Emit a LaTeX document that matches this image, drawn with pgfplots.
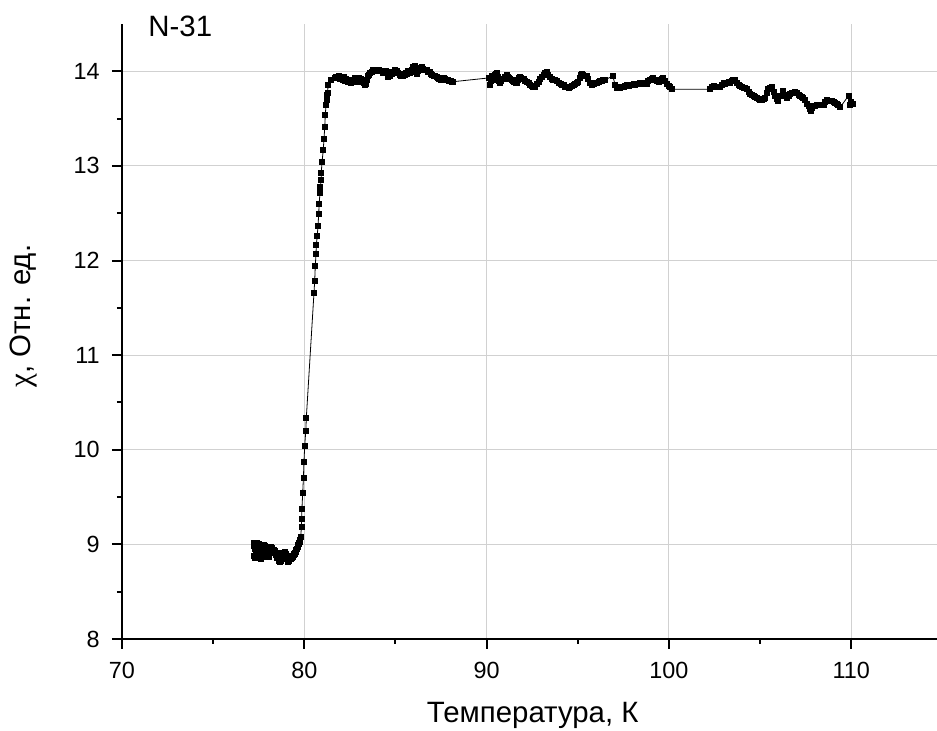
\documentclass[border=0pt]{standalone}
\usepackage{fontspec}
\setmainfont{Liberation Sans}
\newfontfamily\serifchi{Liberation Serif}
\usepackage{pgfplots}
\pgfplotsset{compat=1.18}
\begin{document}
\begin{tikzpicture}
\begin{axis}[
  scale only axis, width=407.5pt, height=307.5pt,
  xmin=70, xmax=114.7, ymin=8, ymax=14.5,
  axis x line*=bottom, axis y line*=left, axis line style={-, line width=1.1pt},
  tick pos=left,
  xtick={70,80,...,110}, ytick={8,9,...,14},
  minor tick num=1,
  tick align=outside,
  major tick length=5pt, minor tick length=2.5pt,
  tick style={line width=1pt, black},
  grid=major, major grid style={black!18, line width=0.5pt},
  tick label style={font=\fontsize{11.7}{14}\selectfont},
  /pgf/number format/assume math mode=true,
  xticklabel style={inner sep=0pt, anchor=north, yshift=-6.35pt},
  yticklabel style={inner sep=0pt, anchor=east, xshift=-6pt},
  xlabel={Температура, К}, ylabel={{\serifchi\fontsize{15.5}{17}\selectfont χ}, Отн. ед.},
  label style={font=\fontsize{14.7}{17}\selectfont, inner sep=0pt},
  xlabel style={at={(axis description cs:0.504,0)}, anchor=base, yshift=-41.85pt},
  ylabel style={at={(axis description cs:-0.1043,0.525)}, anchor=south, rotate=0},
  clip=false,
]
\addplot[black, line width=0.4pt, mark=square*, mark size=1.25pt, mark options={solid}] coordinates {
(77.22,8.98)(77.24,8.88)(77.26,9.02)(77.28,8.86)(77.30,8.95)(77.32,9.01)(77.34,8.87)(77.36,8.93)(77.38,9.02)(77.40,8.90)
(77.43,8.99)(77.46,8.88)(77.49,8.97)(77.52,9.00)(77.55,8.93)(77.58,8.98)(77.61,8.86)(77.64,8.85)(77.67,8.92)(77.70,8.97)
(77.73,8.95)(77.76,8.99)(77.79,8.96)(77.82,8.98)(77.85,8.93)(77.88,8.88)(77.91,8.87)(77.94,8.90)(77.97,8.92)(78.00,8.88)
(78.03,8.87)(78.06,8.91)(78.09,8.94)(78.12,8.96)(78.15,8.95)(78.18,8.97)(78.21,8.96)(78.24,8.93)(78.27,8.91)(78.30,8.92)
(78.33,8.94)(78.36,8.93)(78.39,8.92)(78.42,8.90)(78.45,8.89)(78.48,8.86)(78.51,8.88)(78.54,8.90)(78.57,8.91)(78.60,8.86)
(78.63,8.83)(78.66,8.82)(78.69,8.83)(78.72,8.85)(78.75,8.86)(78.78,8.88)(78.81,8.87)(78.84,8.88)(78.87,8.90)(78.90,8.91)
(78.93,8.92)(78.96,8.91)(78.99,8.90)(79.02,8.88)(79.05,8.85)(79.08,8.83)(79.11,8.82)(79.14,8.83)(79.17,8.84)(79.20,8.85)
(79.23,8.86)(79.26,8.86)(79.29,8.85)(79.32,8.86)(79.35,8.87)(79.38,8.88)(79.41,8.89)(79.44,8.90)(79.47,8.90)(79.50,8.91)
(79.53,8.92)(79.56,8.94)(79.59,8.95)(79.62,8.97)(79.65,8.99)(79.68,9.00)(79.71,9.02)(79.74,9.03)(79.77,9.05)
(79.80,9.08)(79.84,9.18)(79.85,9.27)(79.87,9.38)(79.91,9.54)(79.95,9.70)(79.98,9.87)(80.02,10.04)(80.08,10.20)(80.11,10.34)
(80.53,11.66)(80.57,11.79)(80.60,11.94)(80.64,12.07)(80.66,12.17)(80.71,12.26)(80.75,12.37)(80.79,12.49)(80.81,12.60)(80.86,12.71)
(80.88,12.78)(80.92,12.85)(80.93,12.93)(80.97,13.04)(81.04,13.17)(81.08,13.29)(81.12,13.41)(81.15,13.54)(81.19,13.64)(81.22,13.70)
(81.25,13.75)(81.28,13.77)(81.30,13.86)(81.45,13.91)(81.65,13.93)
(81.75,13.94)(81.89,13.95)(81.97,13.92)(82.05,13.93)(82.12,13.91)(82.18,13.94)(82.23,13.90)(82.30,13.92)(82.37,13.89)(82.44,13.91)
(82.51,13.90)(82.58,13.88)(82.64,13.91)(82.69,13.89)(82.76,13.93)(82.82,13.90)(82.87,13.92)(82.95,13.89)(83.02,13.93)(83.09,13.92)
(83.16,13.90)(83.24,13.88)(83.31,13.86)(83.38,13.87)(83.43,13.91)(83.48,13.95)(83.55,13.96)(83.62,13.98)(83.70,13.99)(83.78,14.01)
(83.86,14.02)(83.93,14.01)(84.02,14.00)(84.10,14.01)(84.18,14.00)(84.25,14.00)(84.33,13.98)(84.40,13.99)(84.47,14.00)(84.52,13.99)
(84.58,13.94)(84.64,13.96)(84.70,13.95)(84.75,13.98)(84.80,13.97)(84.88,13.99)(84.95,14.01)(85.01,13.99)(85.07,14.00)(85.14,13.98)
(85.22,13.96)(85.30,13.95)(85.38,13.95)(85.45,13.97)(85.52,13.96)(85.58,13.98)(85.62,13.97)(85.70,14.00)(85.77,13.98)(85.84,13.99)
(85.92,14.02)(85.98,14.05)(86.04,14.06)(86.10,14.01)(86.17,13.97)(86.23,14.00)(86.30,14.03)(86.37,14.04)(86.44,14.05)(86.50,14.03)
(86.56,14.01)(86.62,14.02)(86.70,14.01)(86.78,13.99)(86.86,13.99)(86.94,13.97)(87.02,13.96)(87.10,13.95)(87.17,13.95)(87.25,13.94)
(87.33,13.93)(87.40,13.92)(87.48,13.91)(87.55,13.92)(87.63,13.93)(87.72,13.92)(87.80,13.91)(87.88,13.91)(87.95,13.90)(88.03,13.90)
(88.10,13.89)(88.16,13.89)
(90.12,13.93)(90.17,13.86)(90.22,13.90)(90.28,13.95)(90.33,13.91)(90.37,13.93)(90.43,13.96)(90.49,13.97)(90.55,13.98)(90.61,13.94)
(90.67,13.90)(90.74,13.88)(90.80,13.90)(90.88,13.92)(90.95,13.92)(91.02,13.94)(91.10,13.96)(91.16,13.94)(91.22,13.93)(91.28,13.92)
(91.36,13.91)(91.44,13.90)(91.52,13.89)(91.60,13.88)(91.65,13.88)(91.72,13.91)(91.78,13.93)(91.83,13.94)(91.90,13.93)(91.97,13.92)
(92.05,13.92)(92.12,13.90)(92.20,13.89)(92.29,13.88)(92.38,13.86)(92.46,13.85)(92.56,13.84)(92.66,13.84)(92.75,13.87)(92.84,13.89)
(92.93,13.92)(93.02,13.94)(93.12,13.96)(93.21,13.98)(93.30,13.99)(93.38,13.96)(93.46,13.94)(93.57,13.92)(93.66,13.91)(93.75,13.91)
(93.85,13.90)(93.95,13.88)(94.05,13.87)(94.13,13.86)(94.21,13.86)(94.30,13.84)(94.40,13.83)(94.49,13.82)(94.58,13.83)(94.67,13.85)
(94.76,13.86)(94.85,13.87)(94.94,13.88)(95.03,13.89)(95.10,13.93)(95.16,13.96)(95.22,13.97)(95.30,13.96)(95.40,13.95)(95.49,13.95)
(95.58,13.92)(95.66,13.88)(95.77,13.86)(95.86,13.87)(95.95,13.88)(96.04,13.88)(96.13,13.89)(96.22,13.90)(96.31,13.90)(96.40,13.91)
(96.49,13.91)(96.92,13.95)(97.04,13.86)(97.13,13.82)(97.22,13.83)(97.32,13.82)(97.41,13.83)(97.50,13.84)(97.59,13.85)(97.68,13.86)
(97.78,13.85)(97.87,13.86)(97.96,13.86)(98.05,13.87)(98.14,13.86)(98.23,13.87)(98.32,13.87)(98.41,13.88)(98.50,13.87)(98.60,13.88)
(98.69,13.87)(98.78,13.87)(98.87,13.90)(98.96,13.91)(99.05,13.92)(99.14,13.93)(99.23,13.91)(99.32,13.90)(99.42,13.89)(99.51,13.91)
(99.60,13.92)(99.69,13.93)(99.78,13.90)(99.88,13.87)(99.97,13.85)(100.06,13.83)(100.15,13.81)
(102.25,13.81)(102.35,13.84)(102.45,13.85)(102.55,13.83)(102.65,13.84)(102.80,13.84)(102.90,13.86)(102.99,13.88)(103.08,13.87)(103.17,13.88)
(103.26,13.89)(103.35,13.88)(103.44,13.90)(103.53,13.91)(103.63,13.91)(103.72,13.88)(103.81,13.86)(103.90,13.85)(104.00,13.84)(104.09,13.82)
(104.18,13.82)(104.27,13.81)(104.36,13.78)(104.45,13.76)(104.55,13.75)(104.64,13.74)(104.73,13.73)(104.82,13.72)(104.91,13.71)(105.00,13.70)
(105.09,13.70)(105.18,13.71)(105.27,13.72)(105.36,13.77)(105.45,13.81)(105.55,13.82)(105.64,13.83)(105.73,13.78)(105.82,13.74)(105.91,13.71)
(106.00,13.69)(106.12,13.74)(106.24,13.79)(106.35,13.75)(106.46,13.72)(106.55,13.74)(106.64,13.76)(106.74,13.77)(106.83,13.77)(106.92,13.78)
(107.01,13.77)(107.10,13.75)(107.19,13.74)(107.28,13.73)(107.37,13.72)(107.47,13.70)(107.56,13.66)(107.65,13.63)(107.72,13.60)(107.78,13.58)
(107.85,13.61)(107.92,13.63)(108.01,13.63)(108.10,13.64)(108.20,13.64)(108.29,13.65)(108.38,13.65)(108.47,13.65)(108.56,13.68)(108.66,13.70)
(108.75,13.69)(108.84,13.69)(108.93,13.69)(109.02,13.68)(109.11,13.67)(109.20,13.66)(109.29,13.64)(109.39,13.62)(109.84,13.74)(109.93,13.65)
(110.00,13.68)(110.08,13.66)
};
\node[anchor=base west, inner sep=0pt, font=\fontsize{14.7}{17}\selectfont] at (axis description cs:0.032,0.979) {N-31};
\end{axis}
\pgfresetboundingbox
\path (current axis.south west) ++(-61pt,-46pt) rectangle ++(468.5pt,365.5pt);
\end{tikzpicture}
\end{document}
